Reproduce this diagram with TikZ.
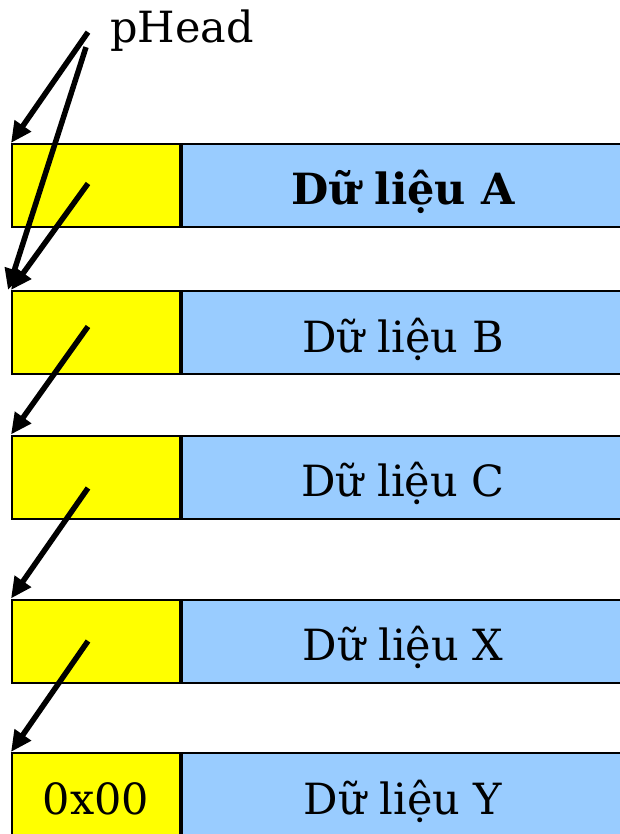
\documentclass[tikz,border=0pt]{standalone}
\usepackage{fontspec}
\setmainfont{DejaVu Serif}
\usetikzlibrary{positioning,arrows.meta}

\definecolor{ptrfill}{RGB}{255,255,0}
\definecolor{datafill}{RGB}{153,204,255}

\tikzset{
  cell/.style={draw,line width=2pt,minimum height=83pt,inner sep=0pt,
    text height=42pt,text depth=3pt,font=\fontsize{43}{52}\selectfont},
  ptrbox/.style={cell,fill=ptrfill,minimum width=168pt},
  databox/.style={cell,fill=datafill,minimum width=442pt,right=0pt of #1},
  link/.style={line width=5.5pt,-{Triangle[length=21pt,width=19pt]}}
}

\begin{document}
\begin{tikzpicture}[x=1pt,y=-1pt]
  \useasboundingbox (0,0) rectangle (620,834);
  \clip (0,0) rectangle (620,834);
  % head pointer label
  \node[anchor=base west,inner sep=0pt,font=\fontsize{43}{52}\selectfont] (pHead) at (110,43) {pHead};
  % list cells
  \node[ptrbox] (ptrA) at (96,185.5) {};
  \node[databox=ptrA] (dataA) {\bfseries Dữ liệu A};
  \node[ptrbox] (ptrB) at (96,332.5) {};
  \node[databox=ptrB] (dataB) {Dữ liệu B};
  \node[ptrbox] (ptrC) at (96,477) {};
  \node[databox=ptrC] (dataC) {Dữ liệu C};
  \node[ptrbox] (ptrX) at (96,641) {};
  \node[databox=ptrX] (dataX) {Dữ liệu X};
  \node[ptrbox] (ptrY) at (96,794.5) {0x00};
  \node[databox=ptrY] (dataY) {Dữ liệu Y};
  % pointers
  \draw[link] ([xshift=-22pt,yshift=-1pt]pHead.west) -- (ptrA.north west);
  \draw[link] ([xshift=-24pt,yshift=-16pt]pHead.west) -- ([xshift=-3pt]ptrB.north west);
  \draw[link] ([xshift=-8pt,yshift=2pt]ptrA.center) -- (ptrB.north west);
  \draw[link] ([xshift=-8pt,yshift=6pt]ptrB.center) -- (ptrC.north west);
  \draw[link] ([xshift=-8pt,yshift=-11pt]ptrC.center) -- (ptrX.north west);
  \draw[link] ([xshift=-8pt]ptrX.center) -- (ptrY.north west);
\end{tikzpicture}
\end{document}
